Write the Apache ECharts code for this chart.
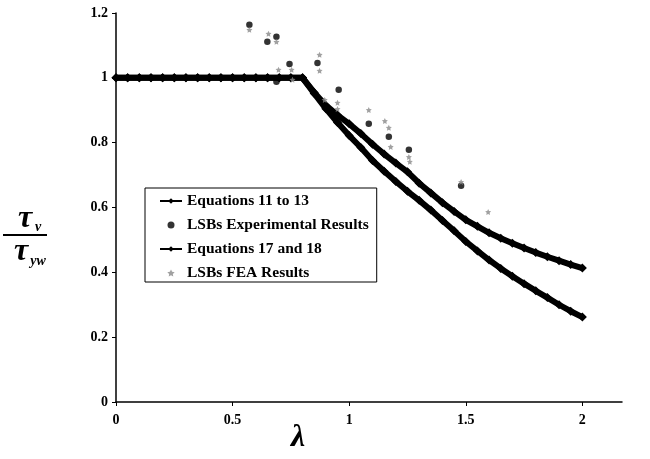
<!DOCTYPE html>
<html>
<head>
<meta charset="utf-8">
<script src="https://cdn.jsdelivr.net/npm/echarts@6/dist/echarts.min.js"></script>
<style>
html,body{margin:0;padding:0;background:#fff;}
#chart{width:650px;height:459px;}
</style>
</head>
<body>
<div id="chart"></div>
<script>
// lambda values for the design curves
var lambdaCurve = [0,0.05,0.1,0.15,0.2,0.25,0.3,0.35,0.4,0.45,0.5,0.55,0.6,0.65,0.7,0.75,0.8,
  0.85,0.9,0.95,1.0,1.05,1.1,1.15,1.2,1.25,1.3,1.35,1.4,1.45,1.5,1.55,1.6,1.65,1.7,1.75,1.8,1.85,1.9,1.95,2.0];
// Equations 11 to 13
var eq11to13 = [1,1,1,1,1,1,1,1,1,1,1,1,1,1,1,1,1,
  0.955,0.915,0.885,0.858,0.828,0.795,0.765,0.737,0.710,0.675,0.645,0.615,0.588,0.562,0.542,0.522,0.505,0.490,0.475,0.461,0.448,0.436,0.424,0.413];
// Equations 17 and 18
var eq17and18 = [1,1,1,1,1,1,1,1,1,1,1,1,1,1,1,1,1,
  0.952,0.905,0.862,0.822,0.785,0.745,0.712,0.680,0.650,0.622,0.592,0.560,0.528,0.495,0.466,0.438,0.412,0.388,0.365,0.343,0.322,0.300,0.280,0.262];
// LSBs Experimental Results
var expLambda = [0.572,0.649,0.688,0.688,0.744,0.864,0.955,1.084,1.170,1.256,1.480];
var expValue  = [1.164,1.111,1.127,0.988,1.043,1.046,0.963,0.858,0.818,0.778,0.667];
// LSBs FEA Results
var feaLambda = [0.572,0.654,0.688,0.697,0.753,0.757,0.873,0.873,0.895,0.950,0.950,1.084,1.153,1.170,1.178,1.256,1.260,1.480,1.596];
var feaValue  = [1.148,1.136,1.111,1.025,1.025,0.994,1.071,1.022,0.932,0.923,0.904,0.901,0.867,0.846,0.787,0.756,0.741,0.679,0.586];
// axis ticks
var xTicks = [0,0.5,1,1.5,2];
var yTicks = [0,0.2,0.4,0.6,0.8,1,1.2];

function pairs(xs, ys){ return xs.map(function(x,i){ return [x, ys[i]]; }); }

var serif = "'Liberation Serif','Times New Roman',serif";
var starPath = 'path://M0,-10 L2.9,-4 L9.5,-3.1 L4.7,1.5 L5.9,8.1 L0,5 L-5.9,8.1 L-4.7,1.5 L-9.5,-3.1 L-2.9,-4Z';

var chart = echarts.init(document.getElementById('chart'), null, {renderer:'canvas'});
chart.setOption({
  animation:false,
  backgroundColor:'#fff',
  grid:{left:116, right:28, top:13, bottom:57, containLabel:false},
  xAxis:{
    type:'value', min:0, max:2.17, interval:0.5,
    axisLine:{show:true, onZero:false, lineStyle:{color:'#000', width:1.5}},
    axisTick:{show:true, length:4, lineStyle:{color:'#000'}},
    splitLine:{show:false},
    axisLabel:{color:'#000', fontFamily:serif, fontWeight:'bold', fontSize:14, margin:11,
      showMaxLabel:false,
      formatter:function(v){ return xTicks.indexOf(v) >= 0 ? String(v) : ''; }}
  },
  yAxis:{
    type:'value', min:0, max:1.2, interval:0.2,
    axisLine:{show:true, onZero:false, lineStyle:{color:'#000', width:1.5}},
    axisTick:{show:true, length:4, lineStyle:{color:'#000'}},
    splitLine:{show:false},
    axisLabel:{color:'#000', fontFamily:serif, fontWeight:'bold', fontSize:14, margin:8,
      formatter:function(v){ var r = Math.round(v*10)/10; return yTicks.indexOf(r) >= 0 ? String(r) : ''; }}
  },
  legend:{
    orient:'vertical', left:145, top:188,
    backgroundColor:'#fff', borderColor:'#000', borderWidth:1, borderRadius:0,
    padding:[5,8,1,14], itemGap:8, itemWidth:22, itemHeight:7,
    textStyle:{color:'#000', fontFamily:serif, fontWeight:'bold', fontSize:15.5},
    data:['Equations 11 to 13','LSBs Experimental Results','Equations 17 and 18','LSBs FEA Results']
  },
  series:[
    {name:'Equations 11 to 13', type:'line', data:pairs(lambdaCurve, eq11to13),
     symbol:'diamond', symbolSize:9, showSymbol:true,
     lineStyle:{color:'#000', width:6}, itemStyle:{color:'#000'}, z:3},
    {name:'LSBs Experimental Results', type:'scatter', data:pairs(expLambda, expValue),
     symbol:'circle', symbolSize:6.5, itemStyle:{color:'#000'}, z:5},
    {name:'Equations 17 and 18', type:'line', data:pairs(lambdaCurve, eq17and18),
     symbol:'diamond', symbolSize:9, showSymbol:true,
     lineStyle:{color:'#000', width:6}, itemStyle:{color:'#000'}, z:3},
    {name:'LSBs FEA Results', type:'scatter', data:pairs(feaLambda, feaValue),
     symbol:starPath, symbolSize:6, itemStyle:{color:'#8a8a8a'}, z:6}
  ],
  graphic:[
    {type:'text', x:25, y:219, style:{text:'τ', fontFamily:serif, fontStyle:'italic', fontWeight:'bold', fontSize:32, fill:'#000', align:'center', verticalAlign:'middle'}},
    {type:'text', x:38, y:227, style:{text:'v', fontFamily:serif, fontStyle:'italic', fontWeight:'bold', fontSize:14, fill:'#000', align:'center', verticalAlign:'middle'}},
    {type:'line', shape:{x1:3, y1:235, x2:47, y2:235}, style:{stroke:'#000', lineWidth:2}},
    {type:'text', x:21, y:252, style:{text:'τ', fontFamily:serif, fontStyle:'italic', fontWeight:'bold', fontSize:32, fill:'#000', align:'center', verticalAlign:'middle'}},
    {type:'text', x:38, y:261, style:{text:'yw', fontFamily:serif, fontStyle:'italic', fontWeight:'bold', fontSize:14, fill:'#000', align:'center', verticalAlign:'middle'}},
    {type:'text', x:298, y:438, style:{text:'λ', fontFamily:serif, fontStyle:'italic', fontWeight:'bold', fontSize:32, fill:'#000', align:'center', verticalAlign:'middle'}}
  ]
});
</script>
</body>
</html>
